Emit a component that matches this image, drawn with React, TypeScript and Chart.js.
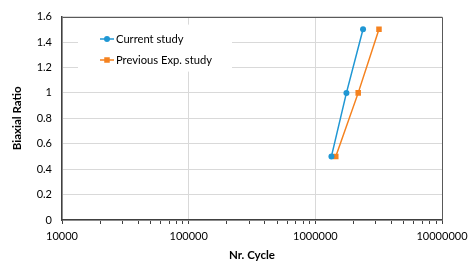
import { useEffect, useRef } from 'react';
import { Chart, registerables } from 'chart.js';

Chart.register(...registerables);

// Series
const seriesNames = ['Current study', 'Previous Exp. study'];
const biaxialRatios = [0.5, 1.0, 1.5];
const currentStudyCycles = [1340000, 1760000, 2380000];
const previousStudyCycles = [1450000, 2180000, 3180000];

// Axes
const xDecades = [10000, 100000, 1000000, 10000000];
const yMin = 0;
const yMax = 1.6;
const yStep = 0.2;

const BLUE = '#1f97d4';
const ORANGE = '#f5821f';
const GRID = '#d9d9d9';
const AXIS = '#404040';
const FONT_FAMILY = 'Lato, "Open Sans", sans-serif';

// Minor tick positions 1..9 x 10^k between the first and last decade
const xMinorTicks: number[] = [];
for (let d = 0; d < xDecades.length - 1; d++) {
  for (let m = 1; m <= 9; m++) xMinorTicks.push(m * xDecades[d]);
}
xMinorTicks.push(xDecades[xDecades.length - 1]);

const isDecade = (v: number) => xDecades.includes(v);

const insetLegend = {
  id: 'insetLegend',
  beforeDatasetsDraw(chart: any) {
    const { ctx, chartArea } = chart;
    const left = chartArea.left;
    const top = chartArea.top;
    ctx.save();
    ctx.fillStyle = '#ffffff';
    ctx.fillRect(left + 16, top + 8, 154, 47);
    ctx.font = `11.2px ${FONT_FAMILY}`;
    ctx.textBaseline = 'middle';
    ctx.textAlign = 'left';
    chart.data.datasets.forEach((ds: any, i: number) => {
      const y = Math.round(top + 22 + i * 21.5);
      const x0 = left + 38;
      ctx.strokeStyle = ds.borderColor;
      ctx.lineWidth = 1.5;
      ctx.beginPath();
      ctx.moveTo(x0, y);
      ctx.lineTo(x0 + 14, y);
      ctx.stroke();
      ctx.fillStyle = ds.backgroundColor;
      if (ds.pointStyle === 'rect') {
        ctx.fillRect(x0 + 7 - 2.75, y - 2.75, 5.5, 5.5);
      } else {
        ctx.beginPath();
        ctx.arc(x0 + 7, y, 3, 0, Math.PI * 2);
        ctx.fill();
      }
      ctx.fillStyle = '#000000';
      ctx.fillText(ds.label, x0 + 16, y);
    });
    ctx.restore();
  },
};

const frame = {
  id: 'frame',
  afterDraw(chart: any) {
    const { ctx, chartArea } = chart;
    ctx.save();
    ctx.strokeStyle = '#595959';
    ctx.lineWidth = 1;
    ctx.beginPath();
    ctx.moveTo(Math.round(chartArea.left) + 0.5, Math.round(chartArea.top) + 0.5);
    ctx.lineTo(Math.round(chartArea.right) + 0.5, Math.round(chartArea.top) + 0.5);
    ctx.lineTo(Math.round(chartArea.right) + 0.5, Math.round(chartArea.bottom) + 0.5);
    ctx.stroke();
    ctx.restore();
  },
};

export default function App() {
  const canvasRef = useRef<HTMLCanvasElement | null>(null);

  useEffect(() => {
    const canvas = canvasRef.current;
    if (!canvas) return;
    const tickFont = { family: FONT_FAMILY, size: 11 };
    const titleFont = { family: FONT_FAMILY, size: 11.5, weight: 'bold' as const };

    const chart = new Chart(canvas, {
      type: 'line',
      data: {
        datasets: [
          {
            label: seriesNames[0],
            data: currentStudyCycles.map((x, i) => ({ x, y: biaxialRatios[i] })),
            borderColor: BLUE,
            backgroundColor: BLUE,
            pointStyle: 'circle',
            pointRadius: 3,
            pointBorderWidth: 0,
            borderWidth: 1.5,
          },
          {
            label: seriesNames[1],
            data: previousStudyCycles.map((x, i) => ({ x, y: biaxialRatios[i] })),
            borderColor: ORANGE,
            backgroundColor: ORANGE,
            pointStyle: 'rect',
            pointRadius: 3.9,
            pointBorderWidth: 0,
            borderWidth: 1.5,
          },
        ],
      },
      options: {
        animation: false,
        responsive: false,
        devicePixelRatio: 1,
        layout: { padding: { top: 16, right: 32, left: 0, bottom: 0 } },
        scales: {
          x: {
            type: 'logarithmic',
            min: xDecades[0],
            max: xDecades[xDecades.length - 1],
            afterBuildTicks: (scale: any) => {
              scale.ticks = xMinorTicks.map((value) => ({ value }));
            },
            afterFit: (scale: any) => {
              scale.height = 48;
            },
            ticks: {
              autoSkip: false,
              maxRotation: 0,
              padding: 6,
              color: '#000000',
              font: tickFont,
              callback: (value: any) => (isDecade(Number(value)) ? String(value) : ''),
            },
            grid: {
              color: (ctx: any) => (ctx.tick && isDecade(ctx.tick.value) ? GRID : 'rgba(0,0,0,0)'),
              tickColor: AXIS,
              tickLength: 4,
              lineWidth: 1,
            },
            border: { color: AXIS, width: 1.5 },
            title: {
              display: true,
              text: 'Nr. Cycle',
              color: '#000000',
              font: titleFont,
              padding: { top: 4, bottom: 6 },
            },
          },
          y: {
            min: yMin,
            max: yMax,
            afterFit: (scale: any) => {
              scale.width = 62;
            },
            ticks: {
              stepSize: yStep,
              padding: 10,
              color: '#000000',
              font: tickFont,
              callback: (value: any) => String(Number(Number(value).toFixed(1))),
            },
            grid: { color: GRID, drawTicks: false, lineWidth: 1 },
            border: { color: AXIS, width: 1.5 },
            title: {
              display: true,
              text: 'Biaxial Ratio',
              color: '#000000',
              font: titleFont,
              padding: { top: 10, bottom: 0 },
            },
          },
        },
        plugins: {
          legend: { display: false },
          tooltip: { enabled: false },
        },
      },
      plugins: [insetLegend, frame],
    } as any);

    return () => chart.destroy();
  }, []);

  return (
    <canvas
      ref={canvasRef}
      width={474}
      height={268}
      style={{ position: 'absolute', left: 0, top: 0, width: 474, height: 268 }}
    />
  );
}
